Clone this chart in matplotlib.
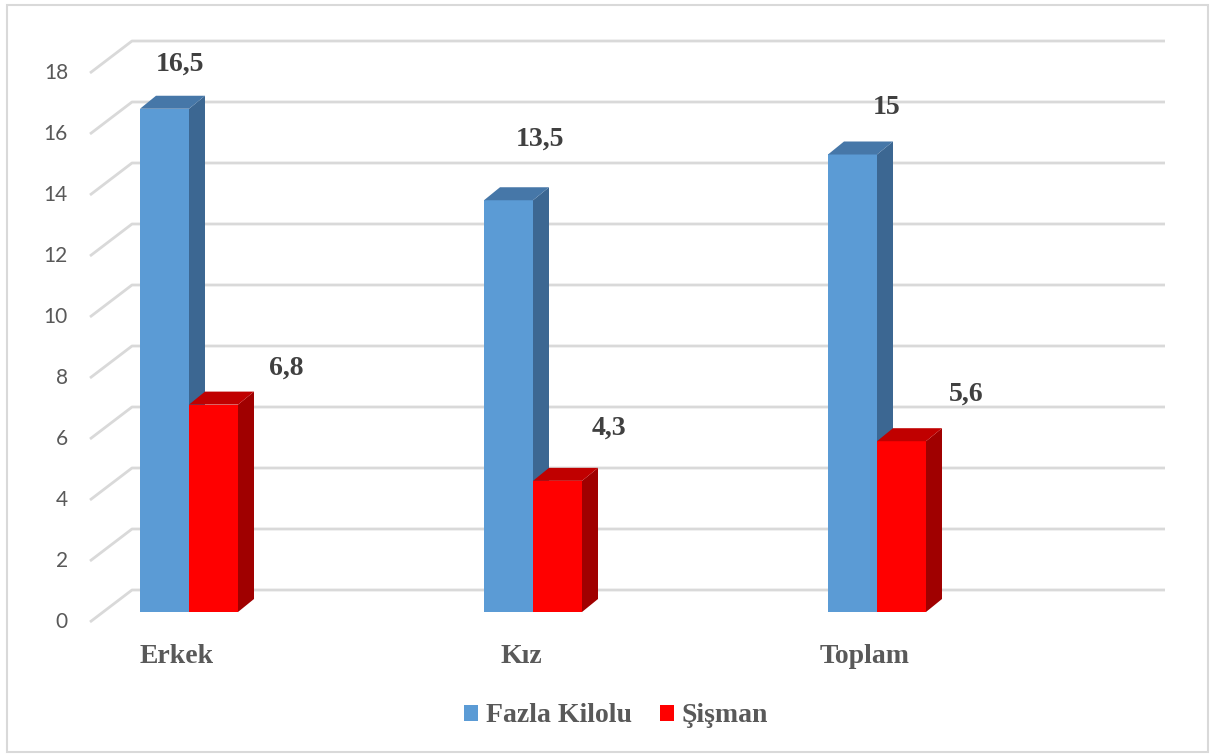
import matplotlib
matplotlib.use('Agg')
import matplotlib.pyplot as plt
from matplotlib.patches import Rectangle, Polygon, Patch

# ── Veriler ──────────────────────────────────────────────────────────────────
categories = ['Erkek', 'Kız', 'Toplam']
fazla_kilolu = [16.5, 13.5, 15]
sisman = [6.8, 4.3, 5.6]
series_names = ['Fazla Kilolu', 'Şişman']
yticks = [0, 2, 4, 6, 8, 10, 12, 14, 16, 18]

# ── Stil ─────────────────────────────────────────────────────────────────────
W, H = 1215, 754
CAT_PX = 344.0        # px entre categorias
VAL_PX = 30.5         # px por unidad
ORIGIN_X, ORIGIN_Y = 189.0, 612.0   # primera categoria, valor 0 (px)
BAR_W = 49 / CAT_PX
DEPTH_X, DEPTH_Y = 16 / CAT_PX, 13 / VAL_PX

COLORS = {
    'blue': ('#5B9BD5', '#3C6792', '#4677A8'),   # frente, lado, tapa
    'red': ('#FF0000', '#A00000', '#C00000'),
}
GRID = '#D9D9D9'
SERIF = 'Liberation Serif'

# desplazamiento de etiquetas (px) respecto al centro superior de la barra
blue_off = [(16, 38), (32, 55), (34, 40)]
red_off = [(73, 30), (51, 46), (65, 41)]


def px2x(p):
    return (p - ORIGIN_X) / CAT_PX


def px2y(p):
    return (ORIGIN_Y - p) / VAL_PX


fig = plt.figure(figsize=(W / 100, H / 100), dpi=100)
ax = fig.add_axes([0, 0, 1, 1])
ax.set_xlim(px2x(0), px2x(W))
ax.set_ylim(px2y(H), px2y(0))
ax.axis('off')

# rejilla: pared lateral (diagonal) + pared trasera
front_x, back_x, right_x = px2x(90), px2x(132), px2x(1165)
front_dy, back_dy = -10 / VAL_PX, 22 / VAL_PX
for v in yticks:
    ax.plot([front_x, back_x, right_x],
            [v + front_dy, v + back_dy, v + back_dy],
            color=GRID, lw=2, zorder=1, solid_capstyle='butt')
    ax.text(px2x(68), v + front_dy, str(v), ha='right', va='center',
            fontsize=15, color='#595959', family='Lato')


def bar3d(x0, v, cols):
    front, side, top = cols
    x1 = x0 + BAR_W
    ax.add_patch(Rectangle((x0, 0), BAR_W, v, facecolor=front,
                           edgecolor='none', zorder=3))
    ax.add_patch(Polygon([(x1, 0), (x1 + DEPTH_X, DEPTH_Y),
                          (x1 + DEPTH_X, v + DEPTH_Y), (x1, v)],
                         closed=True, facecolor=side, edgecolor='none', zorder=3))
    ax.add_patch(Polygon([(x0, v), (x0 + DEPTH_X, v + DEPTH_Y),
                          (x1 + DEPTH_X, v + DEPTH_Y), (x1, v)],
                         closed=True, facecolor=top, edgecolor='none', zorder=3))


def fmt(v):
    return ('%g' % v).replace('.', ',')


for i, cat in enumerate(categories):
    bar3d(i - BAR_W, fazla_kilolu[i], COLORS['blue'])
    bar3d(i, sisman[i], COLORS['red'])

    for xc, v, (ox, oy) in [(i - BAR_W / 2, fazla_kilolu[i], blue_off[i]),
                            (i + BAR_W / 2, sisman[i], red_off[i])]:
        ax.annotate(fmt(v), xy=(xc, v), xytext=(ox, oy),
                    textcoords='offset pixels', ha='center', va='baseline',
                    fontsize=20, fontweight='bold', family=SERIF,
                    color='#404040', zorder=5)

    ax.annotate(cat, xy=(i, 0), xytext=(-12, -51), textcoords='offset pixels',
                ha='center', va='baseline', fontsize=20, fontweight='bold',
                family=SERIF, color='#595959')

# leyenda
handles = [Patch(facecolor=COLORS['blue'][0], edgecolor='none'),
           Patch(facecolor=COLORS['red'][0], edgecolor='none')]
leg = fig.legend(handles, series_names, loc='center', ncol=2,
                 bbox_to_anchor=(616 / W, 1 - 716 / H), frameon=False,
                 handlelength=0.5, handleheight=0.5, handletextpad=0.3,
                 columnspacing=1.0,
                 prop={'family': SERIF, 'weight': 'bold', 'size': 20})
for t in leg.get_texts():
    t.set_color('#595959')

# marco del grafico
fig.add_artist(Rectangle((7 / W, 1 - 752 / H), 1201 / W, 747 / H,
                         transform=fig.transFigure, fill=False,
                         edgecolor=GRID, lw=1.5))

fig.savefig('out.png', dpi=100)
